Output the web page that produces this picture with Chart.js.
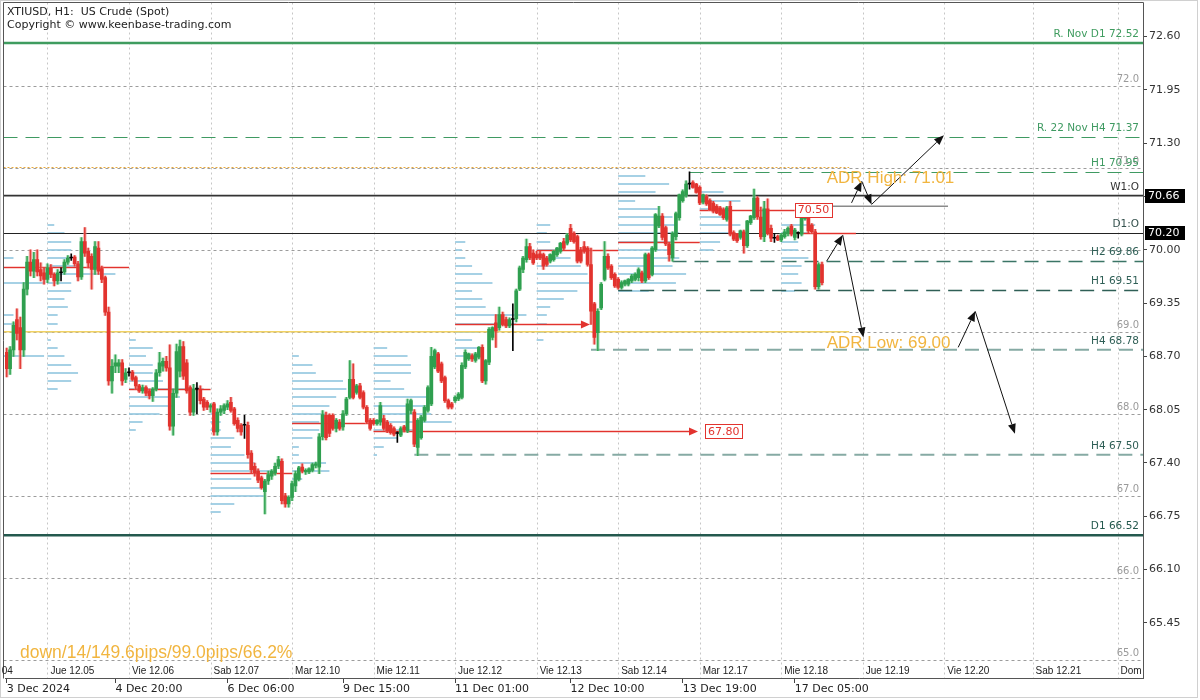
<!DOCTYPE html>
<html><head><meta charset="utf-8">
<script src="https://cdn.jsdelivr.net/npm/chart.js@4.4.0/dist/chart.umd.min.js"></script>
<style>html,body{margin:0;padding:0;background:#fff;}#wrap{width:1200px;height:700px;position:relative;}</style>
</head><body><div id="wrap"><canvas id="c" width="1200" height="700"></canvas></div>
<script>
// ---------------- DATA ----------------
const opens = [68.75,68.55,68.78,69.15,69.05,68.78,69.52,69.85,69.74,69.88,
69.76,69.72,69.64,69.78,69.70,69.62,69.72,69.73,69.85,69.90,
69.91,69.83,69.67,70.10,69.98,69.92,69.76,70.02,69.77,69.66,
69.24,68.40,68.58,68.58,68.62,68.42,68.50,68.51,68.44,68.34,
68.28,68.32,68.28,68.22,68.30,68.50,68.58,68.64,68.56,67.85,
68.25,68.52,68.82,68.62,68.32,68.02,68.30,68.30,68.18,68.14,
68.08,68.12,67.78,68.02,68.04,68.08,68.14,68.06,67.92,67.86,
67.86,67.86,67.52,67.36,67.30,67.22,67.05,67.18,67.24,67.28,
67.36,67.42,67.00,66.90,66.98,67.12,67.20,67.35,67.29,67.29,
67.31,67.37,67.35,67.72,67.98,67.98,67.98,67.82,67.90,67.84,
68.00,68.20,68.42,68.26,68.34,68.26,68.08,67.92,67.92,67.88,
67.90,67.94,67.90,67.86,67.82,67.76,67.74,67.84,67.79,68.04,
68.02,67.59,67.71,67.92,68.04,68.12,68.57,68.73,68.61,68.44,
68.16,68.12,68.16,68.18,68.20,68.57,68.67,68.71,68.65,68.69,
68.81,68.40,68.63,68.93,69.11,69.05,69.21,69.15,69.07,69.15,
69.16,69.52,69.76,69.88,70.04,69.96,69.94,69.95,69.94,69.90,
69.86,69.88,69.94,69.98,70.10,70.08,70.26,70.20,70.16,70.00,
70.04,70.02,69.82,69.34,68.99,69.29,69.64,69.92,69.80,69.70,
69.64,69.54,69.58,69.58,69.62,69.64,69.66,69.72,69.62,69.94,
69.70,70.00,70.29,70.41,70.27,70.07,69.90,70.16,70.39,70.60,
70.67,70.80,70.82,70.80,70.76,70.58,70.65,70.60,70.57,70.53,
70.51,70.49,70.37,70.53,70.21,70.19,70.15,70.22,70.05,70.33,
70.39,70.63,70.40,70.16,70.50,70.26,70.14,70.16,70.12,70.16,
70.20,70.29,70.15,70.20,70.19,70.38,70.43,70.30,70.22,69.55,
69.82];
const highs = [68.80,68.82,69.12,69.28,69.18,69.60,69.92,70.00,69.97,70.00,
69.84,69.78,69.83,69.82,69.72,69.76,69.78,69.88,69.93,69.95,
69.93,69.86,70.15,70.27,70.02,69.95,70.10,70.10,69.80,69.68,
69.30,68.66,68.72,68.66,68.66,68.55,68.56,68.53,68.46,68.36,
68.35,68.34,68.30,68.32,68.54,68.75,68.68,68.70,68.84,68.30,
68.85,68.90,68.88,68.66,68.34,68.36,68.38,68.34,68.20,68.16,
68.12,68.14,68.06,68.10,68.12,68.16,68.20,68.08,67.95,67.88,
67.98,67.90,67.55,67.40,67.33,67.24,67.20,67.30,67.32,67.40,
67.48,67.45,67.03,67.00,67.18,67.30,67.36,67.39,67.33,67.34,
67.40,67.41,67.76,68.04,68.02,68.00,68.00,67.94,67.93,68.04,
68.20,68.65,68.61,68.36,68.37,68.28,68.10,67.94,67.94,67.93,
68.14,67.98,67.92,67.88,67.84,67.78,67.84,67.86,68.18,68.18,
68.05,67.94,67.98,68.10,68.34,68.81,68.79,68.75,68.63,68.46,
68.18,68.14,68.22,68.26,68.62,68.78,68.74,68.73,68.75,68.82,
68.84,68.66,69.05,69.06,69.21,69.30,69.24,69.18,69.17,69.34,
69.52,69.80,69.92,70.13,70.08,70.00,69.98,69.98,69.96,69.92,
69.95,69.99,70.03,70.09,70.14,70.20,70.31,70.22,70.18,70.03,
70.10,70.04,70.02,69.36,69.28,69.60,70.10,69.95,69.82,69.72,
69.66,69.62,69.63,69.65,69.70,69.72,69.78,69.74,69.96,69.96,
70.04,70.44,70.53,70.44,70.29,70.09,70.22,70.46,70.68,70.73,
70.84,70.95,70.84,70.81,70.78,70.68,70.67,70.62,70.59,70.55,
70.53,70.51,70.53,70.59,70.23,70.20,70.24,70.24,70.36,70.42,
70.74,70.65,70.52,70.59,70.62,70.30,70.20,70.18,70.20,70.25,
70.28,70.31,70.26,70.22,70.42,70.44,70.47,70.32,70.25,69.84,
69.85];
const lows = [68.45,68.48,68.70,68.90,68.55,68.70,69.45,69.68,69.66,69.68,
69.62,69.58,69.60,69.66,69.56,69.58,69.62,69.70,69.82,69.87,
69.80,69.62,69.64,69.92,69.78,69.52,69.70,69.70,69.60,69.20,
68.35,68.25,68.50,68.50,68.35,68.38,68.46,68.40,68.30,68.26,
68.25,68.22,68.18,68.15,68.28,68.46,68.52,68.52,67.80,67.74,
68.20,68.45,68.42,68.25,67.98,67.98,68.00,68.12,68.04,68.05,
68.02,67.74,67.74,67.98,68.00,68.05,68.02,67.86,67.78,67.74,
67.70,67.46,67.28,67.24,67.16,67.08,66.78,67.14,67.20,67.25,
67.33,66.90,66.86,66.86,66.94,67.05,67.18,67.28,67.26,67.27,
67.29,67.34,67.27,67.68,67.68,67.72,67.80,67.78,67.80,67.80,
67.98,68.18,68.18,68.24,68.18,68.06,67.88,67.80,67.86,67.86,
67.86,67.80,67.77,67.75,67.73,67.65,67.72,67.78,67.77,68.00,
67.60,67.49,67.69,67.90,68.02,68.10,68.55,68.50,68.38,68.14,
68.06,68.06,68.14,68.16,68.18,68.55,68.65,68.64,68.63,68.67,
68.38,68.36,68.60,68.90,68.81,69.02,69.07,69.05,69.05,68.77,
69.12,69.50,69.72,69.85,69.88,69.82,69.88,69.88,69.76,69.80,
69.84,69.86,69.92,69.96,70.00,70.06,70.10,70.08,69.84,69.84,
69.96,69.80,69.09,68.85,68.77,69.27,69.62,69.76,69.64,69.54,
69.52,69.52,69.56,69.56,69.60,69.62,69.62,69.60,69.60,69.64,
69.68,69.98,70.27,70.12,70.05,69.86,69.86,70.12,70.36,70.58,
70.64,70.74,70.75,70.69,70.55,70.56,70.54,70.48,70.45,70.44,
70.42,70.37,70.35,70.17,70.11,70.09,70.13,69.96,70.03,70.31,
70.37,70.37,70.13,70.10,70.18,70.10,70.09,70.11,70.10,70.14,
70.17,70.17,70.12,70.14,70.17,70.36,70.21,70.20,69.52,69.52,
69.57];
const closes = [68.55,68.78,69.08,68.98,68.78,69.52,69.85,69.74,69.88,69.73,
69.68,69.64,69.78,69.70,69.62,69.72,69.72,69.85,69.90,69.90,
69.83,69.67,70.10,69.96,69.84,69.76,70.04,69.74,69.64,69.24,
68.40,68.58,68.62,68.62,68.40,68.50,68.50,68.42,68.34,68.28,
68.32,68.25,68.22,68.30,68.50,68.62,68.64,68.56,67.85,68.25,
68.76,68.82,68.46,68.28,68.02,68.30,68.30,68.16,68.08,68.08,
68.10,67.78,68.02,68.06,68.10,68.12,68.04,67.88,67.82,67.78,
67.86,67.50,67.32,67.28,67.19,67.10,67.18,67.26,67.30,67.36,
67.44,66.94,66.90,66.98,67.15,67.27,67.34,67.30,67.31,67.33,
67.38,67.39,67.72,67.99,67.71,67.76,67.82,67.92,67.82,68.00,
68.18,68.42,68.20,68.34,68.20,68.08,67.90,67.82,67.88,67.92,
68.10,67.82,67.79,67.77,67.75,67.76,67.82,67.80,68.12,68.16,
67.63,67.92,67.96,68.08,68.32,68.70,68.77,68.52,68.40,68.16,
68.08,68.08,68.20,68.24,68.59,68.75,68.73,68.67,68.73,68.81,
68.40,68.65,69.03,69.05,69.01,69.21,69.09,69.07,69.15,69.15,
69.50,69.78,69.90,70.04,69.90,69.84,69.90,69.90,69.80,69.82,
69.94,69.98,70.02,70.08,70.02,70.18,70.12,70.10,69.86,69.86,
69.98,69.82,69.25,68.93,69.25,69.58,69.92,69.78,69.66,69.56,
69.54,69.60,69.62,69.64,69.68,69.70,69.76,69.62,69.94,69.66,
70.02,70.43,70.41,70.15,70.07,69.94,70.20,70.44,70.67,70.71,
70.80,70.80,70.76,70.70,70.57,70.67,70.56,70.49,70.47,70.45,
70.43,70.39,70.51,70.19,70.13,70.11,70.23,70.05,70.35,70.41,
70.63,70.40,70.16,70.50,70.20,70.14,70.14,70.12,70.18,70.22,
70.26,70.19,70.24,70.20,70.40,70.42,70.23,70.22,69.55,69.82,
69.60];

const totalSlots = 335; // bars incl. empty future space
const daySepIdx = [-12,12,36,60,84,108,132,156,180,204,228,252,276,302,327];
const dayLabels = ["Mie 12.04","Jue 12.05","Vie 12.06","Sab 12.07","Mar 12.10","Mie 12.11","Jue 12.12","Vie 12.13","Sab 12.14","Mar 12.17","Mie 12.18","Jue 12.19","Vie 12.20","Sab 12.21","Dom"];
const timeTickIdx = [0,32,65,99,132,166,199,232];
const timeTickLabels = ["3 Dec 2024","4 Dec 20:00","6 Dec 06:00","9 Dec 15:00","11 Dec 01:00","12 Dec 10:00","13 Dec 19:00","17 Dec 05:00"];
const yTicks = [65.45,66.10,66.75,67.40,68.05,68.70,69.35,70.00,70.65,71.30,71.95,72.60];
const yMin = 64.778, yMax = 72.941;
const gridPrices = [72,71,70,69,68,67,66,65];
const gridLabels = ["72.0","71.0","","69.0","68.0","67.0","66.0","65.0"];

const levelPrices = [72.52,71.37,70.95,70.66,70.20,69.86,69.51,68.78,67.50,66.52];
const levelNames = ["R. Nov D1 72.52","R. 22 Nov H4 71.37","H1 70.95","W1:O","D1:O","H2 69.86","H1 69.51","H4 68.78","H4 67.50","D1 66.52"];
const levelStartIdx = [null,null,201,null,null,196,180,172,120,null];
const axisBoxPrices = [70.66,70.20];

const adrHigh = 71.01, adrLow = 69.00, adrEndIdx = 248, adrTextIdx = 241.4;
const statsText = "down/14/149.6pips/99.0pips/66.2%";

const redSegPrice = [69.79,68.30,67.28,67.89,70.00,70.09,70.49,70.20];
const redSegFrom  = [-1,36,60,84,156,180,204,232];
const redSegTo    = [36,60,84,108,180,204,232,250];
const redArrowPrice = [67.79,69.09];
const redArrowFrom = [108,132];
const redArrowTo = [203.5,171.7];
const priceBoxText = ["67.80","70.50"];
const grayLine = {price:70.53, from:242.4, to:277.1};

const arrowFromIdx = [241.4,246.1,248.7,251.7,254.6,280.1,285.1];
const arrowFromP   = [69.863,70.179,70.572,70.836,70.553,68.81,69.25];
const arrowToIdx   = [246.1,252.2,251.7,254.6,275.9,285.1,296.8];
const arrowToP     = [70.179,68.930,70.836,70.553,71.396,69.25,67.755];

const profileStart = [-12,12,36,60,84,108,132,156,180,204,228];
const profileTop = [69.9,70.3,68.9,68.0,68.7,68.8,70.1,70.3,70.9,70.7,70.3];
const profileLen = [
 [14,0,0,23,0,0,0,14,15,0,0,0,23],
 [2,5,7,7,7,10,20,7,7,5,6,3,3,1,1,3,5,7,9,7,3],
 [2,7,5,7,7,10,22,15,13,9,4,2],
 [2,3,3,7,6,10,13,18,12,15,16,7,3],
 [2,6,7,15,16,13,11,10,8,8,6,2,2,10,11,3],
 [4,10,11,11,5,9,16,16,17,23,13,7,3,1],
 [3,2,3,5,8,11,5,8,9,21,18,7,5,7,4],
 [4,3,4,7,10,13,15,16,12,8,4,3,3,2,2],
 [8,15,11,5,12,16,17,18,16,16,18,16,20,17,9],
 [7,12,9,9,12,10,6,4],
 [10,8,5,5,8,6,5,6,4]
];

// ---------------- STYLES ----------------
const levelStyles = [
 {color:'#3f9c5f', width:2.5, dash:[], text:'#3f9c5f'},
 {color:'#3f9a62', width:1, dash:[14,8], text:'#3f9a62'},
 {color:'#3f9a62', width:1, dash:[14,8], text:'#3f9a62'},
 {color:'#333333', width:1.8, dash:[], text:'#333333'},
 {color:'#222222', width:1.2, dash:[], text:'#33504c'},
 {color:'#3b7566', width:1.4, dash:[14,8], text:'#2f5f56'},
 {color:'#2f5f56', width:1.4, dash:[14,8], text:'#2f5f56'},
 {color:'#86aaa4', width:2, dash:[14,8], text:'#2f5f56'},
 {color:'#86aaa4', width:2, dash:[14,8], text:'#2f5f56'},
 {color:'#24594e', width:2.5, dash:[], text:'#24594e'}
];
const GREEN='#2f9f4f', RED='#e2332e';

const bodyData = opens.map((o,i)=>[o,closes[i]]);
const wickData = lows.map((l,i)=>[l,highs[i]]);
const bodyColors = opens.map((o,i)=> o===closes[i] ? '#000' : (closes[i]>o ? GREEN : RED));
const coreColors = opens.map((o,i)=> o===closes[i] ? '#000' : (closes[i]>o ? '#3aa85a' : '#e23f3a'));
const haloColors = opens.map((o,i)=> o===closes[i] ? 'rgba(0,0,0,0)' : (closes[i]>o ? 'rgba(125,205,145,0.55)' : 'rgba(242,140,135,0.55)'));
const slotLabels = Array.from({length: totalSlots}, (_, i) => String(i));

const FRAME_L = 3.5, FRAME_T = 2.5;

const mt4 = {
 id:'mt4',
 beforeDatasetsDraw(chart){
  const {ctx, chartArea:a, scales:{x,y}} = chart;
  const X = i => x.getPixelForValue(i), Y = p => y.getPixelForValue(p);
  const s = X(1)-X(0);
  const hline = (yy,x0,x1)=>{ctx.beginPath();ctx.moveTo(x0,yy);ctx.lineTo(x1,yy);ctx.stroke();};
  ctx.save();
  ctx.beginPath(); ctx.rect(FRAME_L, FRAME_T, a.right-FRAME_L, a.bottom-FRAME_T); ctx.clip();
  // grid
  ctx.lineWidth=1; ctx.strokeStyle='#9c9c9c'; ctx.setLineDash([3,3]);
  gridPrices.forEach(p=>hline(Math.round(Y(p))+0.5, FRAME_L, a.right));
  ctx.strokeStyle='#c6c6c6'; ctx.setLineDash([2,3]);
  daySepIdx.forEach(i=>{const xx=Math.round(X(i))+0.5; ctx.beginPath(); ctx.moveTo(xx,FRAME_T); ctx.lineTo(xx,a.bottom); ctx.stroke();});
  ctx.setLineDash([]);
  // volume profiles
  ctx.strokeStyle='rgba(150,201,224,0.85)'; ctx.lineWidth=2;
  profileStart.forEach((st,k)=>{
   const x0 = X(st);
   profileLen[k].forEach((len,j)=>{ if(!len) return; hline(Math.round(Y(profileTop[k]-j*0.1)), x0, x0+len*s); });
  });
  // ADR lines
  ctx.strokeStyle='#e9a93a'; ctx.lineWidth=1; ctx.setLineDash([2,2]);
  hline(Math.round(Y(adrHigh))+0.5, FRAME_L, X(adrEndIdx));
  ctx.setLineDash([]); ctx.strokeStyle='#f1d264'; ctx.lineWidth=1.5;
  hline(Y(adrLow), FRAME_L, X(adrEndIdx));
  // levels
  levelPrices.forEach((p,k)=>{
   const st=levelStyles[k];
   ctx.strokeStyle=st.color; ctx.lineWidth=st.width; ctx.setLineDash(st.dash);
   const x0 = levelStartIdx[k]===null ? FRAME_L : X(levelStartIdx[k]);
   hline(st.width<1.5 ? Math.round(Y(p))+0.5 : Y(p), x0, a.right);
  });
  ctx.setLineDash([]);
  // gray line
  ctx.strokeStyle='#8a8a8a'; ctx.lineWidth=1.5;
  hline(Y(grayLine.price), X(grayLine.from), X(grayLine.to));
  // red segments
  const redLine=(yy,x0,x1)=>{ctx.strokeStyle='rgba(236,100,90,0.3)';ctx.lineWidth=3;hline(yy,x0,x1);ctx.strokeStyle=RED;ctx.lineWidth=1.2;hline(yy,x0,x1);};
  redSegPrice.forEach((p,k)=>redLine(Math.round(Y(p))+0.5, X(redSegFrom[k]), X(redSegTo[k])));
  redArrowPrice.forEach((p,k)=>redLine(Math.round(Y(p))+0.5, X(redArrowFrom[k]), X(redArrowTo[k])-6));
  ctx.restore();
 },
 afterDatasetsDraw(chart){
  const {ctx, chartArea:a, scales:{x,y}} = chart;
  const X = i => x.getPixelForValue(i), Y = p => y.getPixelForValue(p);
  ctx.save();
  // red arrowheads + boxes
  ctx.fillStyle=RED;
  redArrowPrice.forEach((p,k)=>{
   const tx=X(redArrowTo[k]), ty=Math.round(Y(p))+0.5;
   ctx.beginPath(); ctx.moveTo(tx,ty); ctx.lineTo(tx-9,ty-4); ctx.lineTo(tx-9,ty+4); ctx.closePath(); ctx.fill();
  });
  const priceBox=(txt,x0,yc)=>{
   ctx.font='11px "DejaVu Sans"'; const w=ctx.measureText(txt).width+6;
   ctx.fillStyle='#fff'; ctx.fillRect(x0,yc-7,w,15);
   ctx.strokeStyle='#e2332e'; ctx.lineWidth=1; ctx.strokeRect(Math.round(x0)+0.5,Math.round(yc-7)+0.5,Math.round(w),14);
   ctx.fillStyle=RED; ctx.textBaseline='middle'; ctx.textAlign='left'; ctx.fillText(txt,x0+3,yc+1);
  };
  priceBox(priceBoxText[0], X(redArrowTo[0])+7, Y(redArrowPrice[0]));
  priceBox(priceBoxText[1], X(redSegTo[6]), Y(redSegPrice[6]));
  // black arrows
  ctx.strokeStyle='#111'; ctx.fillStyle='#111'; ctx.lineWidth=1;
  arrowFromIdx.forEach((fi,k)=>{
   const x1=X(fi), y1=Y(arrowFromP[k]), x2=X(arrowToIdx[k]), y2=Y(arrowToP[k]);
   const ang=Math.atan2(y2-y1,x2-x1), hl=10, hw=4;
   const bx=x2-hl*Math.cos(ang), by=y2-hl*Math.sin(ang);
   ctx.beginPath(); ctx.moveTo(x1,y1); ctx.lineTo(bx,by); ctx.stroke();
   ctx.beginPath(); ctx.moveTo(x2,y2);
   ctx.lineTo(bx+hw*Math.sin(ang), by-hw*Math.cos(ang));
   ctx.lineTo(bx-hw*Math.sin(ang), by+hw*Math.cos(ang));
   ctx.closePath(); ctx.fill();
  });
  // integer grid labels
  ctx.textAlign='right'; ctx.textBaseline='alphabetic';
  ctx.font='10px "DejaVu Sans"'; ctx.fillStyle='#9a9a9a';
  gridPrices.forEach((p,k)=>{ if(gridLabels[k]) ctx.fillText(gridLabels[k], a.right-4, Math.round(Y(p))-4); });
  // level labels
  ctx.font='10.5px "DejaVu Sans"';
  levelPrices.forEach((p,k)=>{ ctx.fillStyle=levelStyles[k].text; ctx.fillText(levelNames[k], a.right-4, Math.round(Y(p))-6); });
  // ADR texts
  ctx.textAlign='left'; ctx.font='17px "Liberation Sans"'; ctx.fillStyle='#f1b53f';
  ctx.fillText('ADR High: '+adrHigh.toFixed(2), X(adrTextIdx), Y(adrHigh)+16);
  ctx.fillText('ADR Low: '+adrLow.toFixed(2), X(adrTextIdx), Y(adrLow)+16);
  ctx.restore();
 },
 afterDraw(chart){
  const {ctx, chartArea:a, scales:{x,y}} = chart;
  const X = i => x.getPixelForValue(i), Y = p => y.getPixelForValue(p);
  ctx.save();
  // frame
  ctx.strokeStyle='#555'; ctx.lineWidth=1;
  ctx.beginPath(); ctx.moveTo(FRAME_L,a.bottom+0.5); ctx.lineTo(FRAME_L,FRAME_T); ctx.lineTo(a.right+0.5,FRAME_T); ctx.lineTo(a.right+0.5,a.bottom+0.5); ctx.stroke();
  // title
  ctx.fillStyle='#222'; ctx.font='11px "DejaVu Sans"'; ctx.textAlign='left'; ctx.textBaseline='alphabetic';
  ctx.fillText('XTIUSD, H1:  US Crude (Spot)', 7, 15);
  ctx.fillText('Copyright \u00a9 www.keenbase-trading.com', 7, 28);
  // day labels
  ctx.font='10px "Liberation Sans"'; ctx.fillStyle='#222';
  daySepIdx.forEach((i,k)=>ctx.fillText(dayLabels[k], X(i)+3, a.bottom-4));
  // stats text
  ctx.font='17.5px "Liberation Sans"'; ctx.fillStyle='#f1b53f';
  ctx.fillText(statsText, 20, 658);
  // axis black boxes
  ctx.font='11px "DejaVu Sans"'; ctx.textBaseline='middle';
  axisBoxPrices.forEach(p=>{
   const yc=Math.round(Y(p));
   ctx.fillStyle='#000'; ctx.fillRect(a.right+2, yc-7, 40, 14);
   ctx.fillStyle='#fff'; ctx.fillText(p.toFixed(2), a.right+5, yc+0.5);
  });
  // outer border
  ctx.strokeStyle='#d0d0d0'; ctx.strokeRect(0.5,0.5,1197,697);
  ctx.restore();
 }
};

Chart.defaults.font.family = '"DejaVu Sans"';
new Chart(document.getElementById('c'), {
 type:'bar',
 data:{
  labels: slotLabels,
  datasets:[
   {label:'body', data: bodyData, backgroundColor: bodyColors, barThickness:3, grouped:false, minBarLength:1, order:1, borderWidth:0},
   {label:'wick', data: wickData, backgroundColor: coreColors, barThickness:1, grouped:false, order:2, borderWidth:0},
   {label:'halo', data: wickData, backgroundColor: haloColors, barThickness:3, grouped:false, order:3, borderWidth:0}
  ]
 },
 options:{
  responsive:false, maintainAspectRatio:false, animation:false, devicePixelRatio:1,
  layout:{padding:{left:5, top:3, right:0, bottom:0}},
  plugins:{legend:{display:false}, tooltip:{enabled:false}},
  scales:{
   x:{type:'category', offset:true,
      afterFit: s => { s.height = 22; },
      ticks:{autoSkip:false, maxRotation:0, minRotation:0, align:'start', padding:0, color:'#222', font:{size:11, family:'"DejaVu Sans"'},
        callback:(v,i)=>{const k=timeTickIdx.indexOf(i); return k>=0 ? timeTickLabels[k] : '';}},
      grid:{drawOnChartArea:false, drawTicks:true, tickLength:5, offset:false,
        color: c => timeTickIdx.includes(c.index) ? '#444' : 'rgba(0,0,0,0)'},
      border:{display:true, color:'#555'}
   },
   y:{position:'right', min:yMin, max:yMax,
      afterBuildTicks: s => { s.ticks = yTicks.map(v=>({value:v})); },
      afterFit: s => { s.width = 57; },
      ticks:{callback:v=>Number(v).toFixed(2), color:'#333', padding:2, font:{size:11, family:'"DejaVu Sans"'}},
      grid:{drawOnChartArea:false, drawTicks:true, tickLength:4, color:'#444'},
      border:{display:true, color:'#555'}
   }
  }
 },
 plugins:[mt4]
});
</script></body></html>
